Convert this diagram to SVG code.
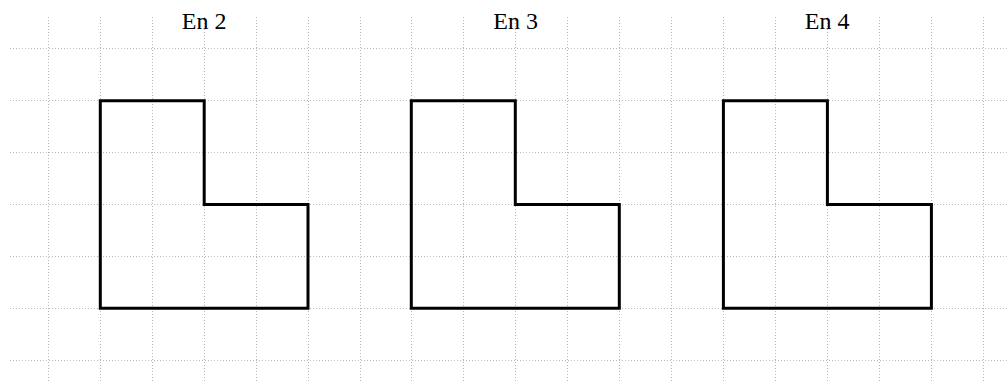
<svg xmlns="http://www.w3.org/2000/svg" width="1008" height="382" viewBox="0 0 1008 382">
<style>
.grid line{stroke:#b8b8b8;stroke-width:1;stroke-dasharray:1 2}
.shape{fill:none;stroke:#000;stroke-width:3;stroke-linejoin:miter}
.lbl{font-family:"Liberation Serif","Times New Roman",serif;font-size:24px;fill:#000;text-anchor:middle}
</style>
<rect width="1008" height="382" fill="#fff"/>
<g class="grid">
<line x1="48.5" y1="17" x2="48.5" y2="382"/>
<line x1="100.5" y1="17" x2="100.5" y2="382"/>
<line x1="152.5" y1="17" x2="152.5" y2="382"/>
<line x1="204.5" y1="17" x2="204.5" y2="382"/>
<line x1="256.5" y1="17" x2="256.5" y2="382"/>
<line x1="308.5" y1="17" x2="308.5" y2="382"/>
<line x1="360.5" y1="17" x2="360.5" y2="382"/>
<line x1="411.5" y1="17" x2="411.5" y2="382"/>
<line x1="463.5" y1="17" x2="463.5" y2="382"/>
<line x1="515.5" y1="17" x2="515.5" y2="382"/>
<line x1="567.5" y1="17" x2="567.5" y2="382"/>
<line x1="619.5" y1="17" x2="619.5" y2="382"/>
<line x1="671.5" y1="17" x2="671.5" y2="382"/>
<line x1="723.5" y1="17" x2="723.5" y2="382"/>
<line x1="775.5" y1="17" x2="775.5" y2="382"/>
<line x1="827.5" y1="17" x2="827.5" y2="382"/>
<line x1="879.5" y1="17" x2="879.5" y2="382"/>
<line x1="931.5" y1="17" x2="931.5" y2="382"/>
<line x1="983.5" y1="17" x2="983.5" y2="382"/>
<line x1="10" y1="48.5" x2="1008" y2="48.5"/>
<line x1="10" y1="100.5" x2="1008" y2="100.5"/>
<line x1="10" y1="152.5" x2="1008" y2="152.5"/>
<line x1="10" y1="204.5" x2="1008" y2="204.5"/>
<line x1="10" y1="256.5" x2="1008" y2="256.5"/>
<line x1="10" y1="308.5" x2="1008" y2="308.5"/>
<line x1="10" y1="360.5" x2="1008" y2="360.5"/>
</g>
<g id="fig-en2">
<text class="lbl" x="204.2" y="29">En 2</text>
<path class="shape" d="M100.3,100.8 H204.2 V204.4 H308 V308.2 H100.3 Z"/>
</g>
<g id="fig-en3">
<text class="lbl" x="515.7" y="29">En 3</text>
<path class="shape" d="M411.3,100.8 H515.3 V204.4 H619.3 V308.2 H411.3 Z"/>
</g>
<g id="fig-en4">
<text class="lbl" x="827.2" y="29">En 4</text>
<path class="shape" d="M723.4,100.8 H827.4 V204.4 H931.4 V308.2 H723.4 Z"/>
</g>
<g id="connectors"/>
</svg>
